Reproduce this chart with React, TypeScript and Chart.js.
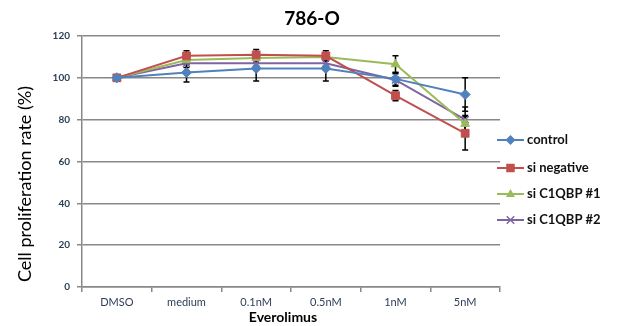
import React, { useEffect, useRef } from "react";
import { Chart, registerables } from "chart.js";

Chart.register(...registerables);

// Everolimus dose groups
const categories = ["DMSO", "medium", "0.1nM", "0.5nM", "1nM", "5nM"];

// Proliferation rate (%) per siRNA group
const controlValues = [100, 102.5, 104.5, 104.5, 99.5, 92];
const siNegativeValues = [100, 110.5, 111, 110.5, 91.5, 73.5];
const siC1qbp1Values = [100, 108.5, 109.5, 110, 106.5, 78];
const siC1qbp2Values = [100, 107, 107, 107, 99, 80];

// Standard deviation bars
const controlErrors = [0, 4.5, 6, 6, 3, 8];
const siNegativeErrors = [0, 2.5, 2.5, 2.5, 2.5, 8];
const siC1qbp1Errors = [0, 2, 2, 2, 4, 4];
const siC1qbp2Errors = [0, 2, 2, 2, 3, 6];

const seriesNames = ["control", "si negative", "si C1QBP #1", "si C1QBP #2"];
const seriesColors = ["#4F81BD", "#C0504D", "#9BBB59", "#8064A2"];
const seriesMarkers = ["rectRot", "rect", "triangle", "crossRot"];
const seriesValues = [controlValues, siNegativeValues, siC1qbp1Values, siC1qbp2Values];
const seriesErrors = [controlErrors, siNegativeErrors, siC1qbp1Errors, siC1qbp2Errors];

const yTicks = [0, 20, 40, 60, 80, 100, 120];

const chartTitle = "786-O";
const yTitle = "Cell proliferation rate (%)";
const xTitle = "Everolimus";

const FONT = "Lato, 'Open Sans', sans-serif";

function drawMarker(ctx: CanvasRenderingContext2D, style: string, x: number, y: number, r: number, color: string) {
  ctx.save();
  ctx.fillStyle = color;
  ctx.strokeStyle = color;
  ctx.lineWidth = 1.5;
  ctx.beginPath();
  if (style === "rectRot") {
    ctx.moveTo(x, y - r);
    ctx.lineTo(x + r, y);
    ctx.lineTo(x, y + r);
    ctx.lineTo(x - r, y);
    ctx.closePath();
    ctx.fill();
  } else if (style === "rect") {
    ctx.rect(x - r * 0.85, y - r * 0.85, r * 1.7, r * 1.7);
    ctx.fill();
  } else if (style === "triangle") {
    ctx.moveTo(x, y - r);
    ctx.lineTo(x + r * 0.9, y + r * 0.6);
    ctx.lineTo(x - r * 0.9, y + r * 0.6);
    ctx.closePath();
    ctx.fill();
  } else {
    const d = r * 0.75;
    ctx.moveTo(x - d, y - d);
    ctx.lineTo(x + d, y + d);
    ctx.moveTo(x + d, y - d);
    ctx.lineTo(x - d, y + d);
    ctx.stroke();
  }
  ctx.restore();
}

const errorBars = {
  id: "errorBars",
  beforeDatasetsDraw(chart: any) {
    const ctx = chart.ctx as CanvasRenderingContext2D;
    const xs = chart.scales.x;
    const ys = chart.scales.y;
    ctx.save();
    ctx.strokeStyle = "#000";
    ctx.lineWidth = 1.5;
    seriesValues.forEach((vals, si) => {
      vals.forEach((v, i) => {
        const e = seriesErrors[si][i];
        if (!e) return;
        const x = xs.getPixelForValue(i);
        const yTop = ys.getPixelForValue(v + e);
        const yBot = ys.getPixelForValue(v - e);
        ctx.beginPath();
        ctx.moveTo(x, yTop);
        ctx.lineTo(x, yBot);
        ctx.moveTo(x - 3, yTop);
        ctx.lineTo(x + 3, yTop);
        ctx.moveTo(x - 3, yBot);
        ctx.lineTo(x + 3, yBot);
        ctx.stroke();
      });
    });
    ctx.restore();
  },
};

const overlay = {
  id: "overlay",
  afterDraw(chart: any) {
    const ctx = chart.ctx as CanvasRenderingContext2D;
    const area = chart.chartArea;
    ctx.save();
    ctx.fillStyle = "#000";
    ctx.textAlign = "center";
    ctx.textBaseline = "middle";

    ctx.font = `bold 19px ${FONT}`;
    ctx.fillText(chartTitle, 312, 19);

    ctx.font = `bold 14px ${FONT}`;
    ctx.fillText(xTitle, (area.left + area.right) / 2 - 8, 317);

    ctx.save();
    ctx.translate(25, 184);
    ctx.rotate(-Math.PI / 2);
    ctx.font = `18px ${FONT}`;
    ctx.fillText(yTitle, 0, 0);
    ctx.restore();

    // legend: line segment with marker, then label
    const rowY = [140, 168, 194, 220];
    seriesNames.forEach((name, i) => {
      const y = rowY[i];
      ctx.strokeStyle = seriesColors[i];
      ctx.lineWidth = 2;
      ctx.beginPath();
      ctx.moveTo(497, y);
      ctx.lineTo(524, y);
      ctx.stroke();
      drawMarker(ctx, seriesMarkers[i], 510.5, y, 5, seriesColors[i]);
      ctx.fillStyle = "#111";
      ctx.textAlign = "left";
      ctx.font = `bold 13px ${FONT}`;
      ctx.fillText(name, 527, y);
    });
    ctx.restore();
  },
};

export default function App() {
  const canvasRef = useRef<HTMLCanvasElement | null>(null);

  useEffect(() => {
    if (!canvasRef.current) return;
    const chart = new Chart(canvasRef.current, {
      type: "line",
      data: {
        labels: categories,
        datasets: seriesNames.map((name, i) => ({
          label: name,
          data: seriesValues[i],
          borderColor: seriesColors[i],
          backgroundColor: seriesColors[i],
          borderWidth: 2,
          pointStyle: seriesMarkers[i] as any,
          pointRadius: i === 1 ? 5.5 : 5,
          pointBorderWidth: i === 3 ? 1.5 : 1,
          pointBackgroundColor: seriesColors[i],
          pointBorderColor: seriesColors[i],
          tension: 0,
        })),
      },
      options: {
        responsive: false,
        animation: false,
        layout: { padding: { left: 0, top: 36, right: 123, bottom: 0 } },
        plugins: {
          legend: { display: false },
          title: { display: false },
          tooltip: { enabled: false },
        },
        scales: {
          x: {
            type: "category",
            offset: true,
            grid: {
              offset: true,
              drawOnChartArea: false,
              drawTicks: true,
              tickLength: 5,
              color: "#888",
              lineWidth: 1.5,
            },
            border: { color: "#888", width: 1.5 },
            ticks: {
              color: "#2c3e55",
              font: { family: FONT, size: 11 },
              padding: 4,
              maxRotation: 0,
              autoSkip: false,
            },
            afterFit(scale: any) {
              scale.height = 39;
            },
          },
          y: {
            min: 0,
            max: 120,
            afterBuildTicks(scale: any) {
              scale.ticks = yTicks.map((v) => ({ value: v }));
            },
            grid: {
              color: "#888",
              lineWidth: 1.5,
              tickLength: 5,
            },
            border: { color: "#888", width: 1.5 },
            ticks: {
              color: "#2c3e55",
              font: { family: FONT, size: 10, weight: "bold" },
              padding: 7,
            },
            afterFit(scale: any) {
              scale.width = 82;
            },
          },
        },
      },
      plugins: [errorBars, overlay],
    });
    return () => chart.destroy();
  }, []);

  return (
    <div style={{ position: "fixed", left: 0, top: 0, width: 623, height: 326, background: "#fff" }}>
      <canvas ref={canvasRef} width={623} height={326} />
    </div>
  );
}
